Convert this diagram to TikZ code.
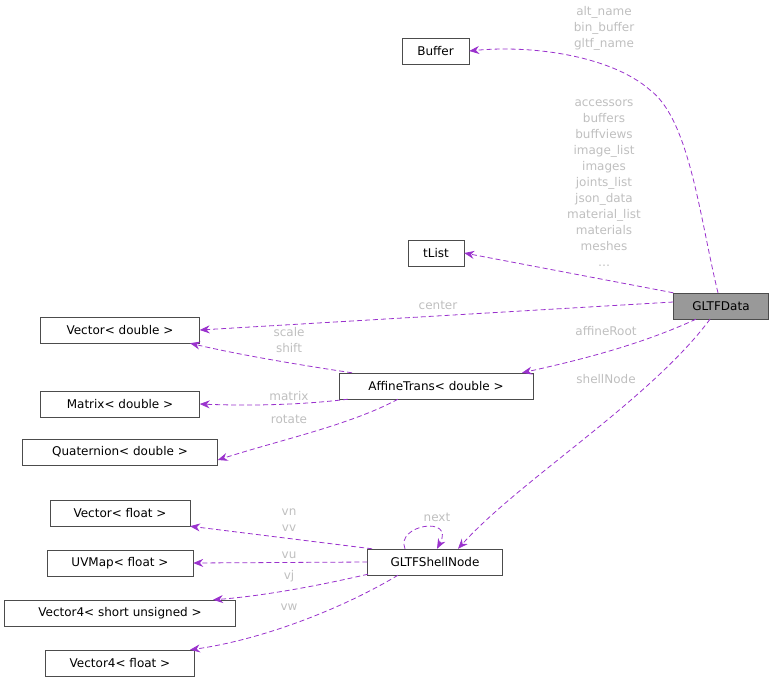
\documentclass[tikz,border=0pt]{standalone}
\usepackage{fontspec}
\setmainfont{DejaVu Sans}
\definecolor{myedge}{RGB}{154,50,205}
\definecolor{mylabel}{RGB}{191,191,191}
\definecolor{mygray}{RGB}{153,153,153}
\usetikzlibrary{arrows.meta,positioning}
\begin{document}
\begin{tikzpicture}[
  x=1pt, y=-1pt,
  font=\fontsize{12}{14}\selectfont,
  mybox/.style={
    draw=black!70,
    fill=white,
    rectangle,
    minimum height=26pt,
    inner xsep=4pt
    },
  myedge/.style={
    draw=myedge,
    line width=0.8pt,
    dash pattern=on 5pt off 3pt,
    -{Stealth[length=10pt,width=8pt]}
    },
  mylabel/.style={
    text=mylabel,
    align=center,
    inner sep=1pt,
    font=\fontsize{12}{16}\selectfont
    }
]
\useasboundingbox (0,0) rectangle (775,684);

\node[mybox, minimum width=67pt] (buffer) at (435.5,51) {Buffer};
\node[mybox, minimum width=56pt] (tlist) at (436,253) {tList};
\node[mybox, fill=mygray, minimum width=95pt] (gltfdata) at (721,306) {GLTFData};
\node[mybox, minimum width=159pt] (vecdouble) at (120,330) {Vector< double >};
\node[mybox, minimum width=194pt] (affine) at (436,386) {AffineTrans< double >};
\node[mybox, minimum width=159pt] (matdouble) at (120,404) {Matrix< double >};
\node[mybox, minimum width=195pt] (quat) at (120,452) {Quaternion< double >};
\node[mybox, minimum width=140pt] (vecfloat) at (120,513) {Vector< float >};
\node[mybox, minimum width=135pt] (shell) at (435,562) {GLTFShellNode};
\node[mybox, minimum width=146pt] (uvmap) at (120,563) {UVMap< float >};
\node[mybox, minimum width=231pt] (vec4short) at (120,613) {Vector4< short unsigned >};
\node[mybox, minimum width=149pt] (vec4float) at (120,663) {Vector4< float >};

% GLTFData members
\draw[myedge] ([xshift=-3pt]gltfdata.north) .. controls (700,220) and (690,120) .. (650,90)
  .. controls (610,55) and (530,45) .. (buffer.east);
\draw[myedge] (gltfdata.north west) -- (tlist.east);
\draw[myedge] ([yshift=4pt]gltfdata.west) -- (vecdouble.east);
\draw[myedge] ([xshift=-25pt]gltfdata.south) .. controls (640,345) and (580,360) .. ([xshift=86pt]affine.north);
\draw[myedge] ([xshift=-11pt]gltfdata.south) .. controls (650,400) and (520,480) .. ([xshift=23pt]shell.north);

\node[mylabel] (lbuffer) at (604,28) {alt\_name\\bin\_buffer\\gltf\_name};
\node[mylabel] (ltlist) at (604,183) {accessors\\buffers\\buffviews\\image\_list\\images\\joints\_list\\json\_data\\material\_list\\materials\\meshes\\\dots};
\node[mylabel] (lcenter) at (438,305) {center};
\node[mylabel] (laffine) at (606,331) {affineRoot};
\node[mylabel] (lshell) at (606,379) {shellNode};

% AffineTrans members
\draw[myedge] ([xshift=-84pt]affine.north) .. controls (300,365) and (240,355) .. ([xshift=70pt]vecdouble.south);
\draw[myedge] ([xshift=-88pt]affine.south) .. controls (300,405) and (250,406) .. (matdouble.east);
\draw[myedge] ([xshift=-38pt]affine.south) .. controls (350,425) and (280,440) .. ([yshift=-8pt]quat.east);

\node[mylabel] (lscale) at (289,340) {scale\\shift};
\node[mylabel] (lmatrix) at (289,396) {matrix};
\node[mylabel] (lrotate) at (289,419) {rotate};

% GLTFShellNode members
\draw[myedge] ([xshift=-30pt]shell.north) .. controls (395,525) and (455,515) .. ([xshift=2pt]shell.north);
\draw[myedge] ([xshift=-63pt]shell.north) -- ([xshift=70pt]vecfloat.south);
\draw[myedge] (shell.west) -- (uvmap.east);
\draw[myedge] ([xshift=-67pt,yshift=1pt]shell.south) .. controls (300,590) and (250,597) .. ([xshift=93pt]vec4short.north);
\draw[myedge] ([xshift=-37pt]shell.south) .. controls (340,610) and (260,640) .. ([xshift=70pt]vec4float.north);

\node[mylabel] (lnext) at (437,517) {next};
\node[mylabel] (lvn) at (289,520) {vn\\vv};
\node[mylabel] (lvu) at (289,555) {vu};
\node[mylabel] (lvj) at (289,576) {vj};
\node[mylabel] (lvw) at (289,607) {vw};
\end{tikzpicture}
\end{document}
